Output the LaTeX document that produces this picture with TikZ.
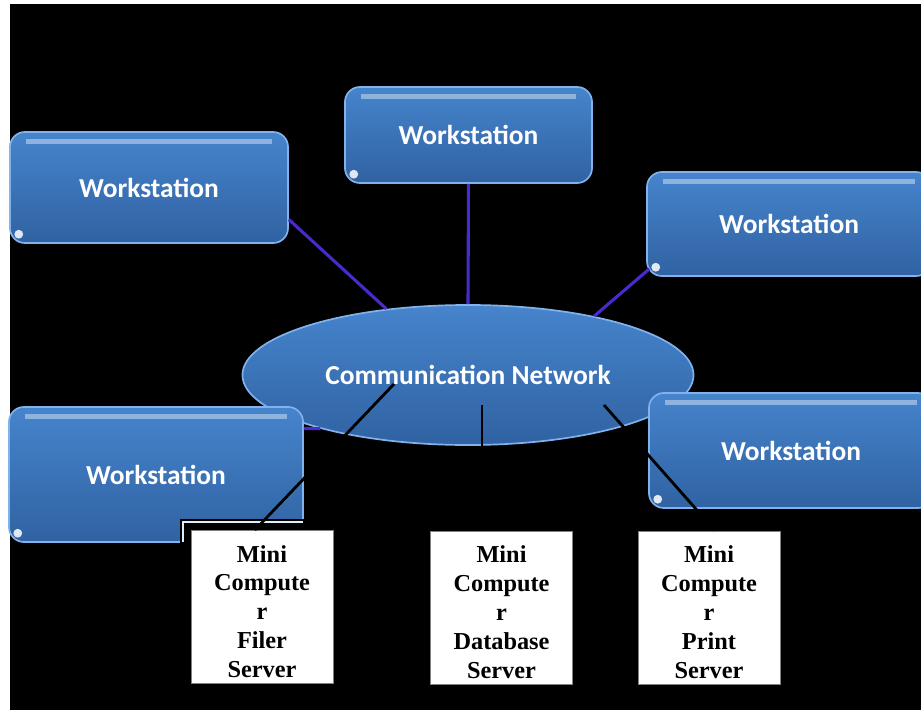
\documentclass[tikz,border=0pt]{standalone}
\usepackage{fontspec}
\newfontfamily\wsfont{Carlito}
\newfontfamily\srvfont{Liberation Serif}
\usetikzlibrary{shapes.geometric,calc}

\definecolor{wstop}{RGB}{70,132,204}
\definecolor{wsbottom}{RGB}{48,98,162}
\definecolor{wsrim}{RGB}{128,178,236}
\definecolor{linkblue}{RGB}{74,42,204}

\tikzset{
  gloss/.style={top color=wstop, bottom color=wsbottom, draw=wsrim, line width=1.2pt,
    text=white, font=\wsfont\fontsize{19.5}{23}\selectfont\bfseries},
  wsbox/.style={gloss, rounded corners=0.375cm, inner sep=0pt,
    path picture={
      \draw[white, opacity=0.4, line width=4pt]
        ([xshift=0.4cm,yshift=-0.24cm]path picture bounding box.north west) --
        ([xshift=-0.4cm,yshift=-0.24cm]path picture bounding box.north east);
      \fill[white, opacity=0.85]
        ([xshift=0.22cm,yshift=0.22cm]path picture bounding box.south west) circle (0.11cm);}},
  netshape/.style={gloss, ellipse, inner sep=0pt},
  srvbox/.style={fill=white, draw=gray, line width=0.6pt, align=center, inner sep=0pt,
    minimum width=3.55cm, minimum height=3.825cm, text height=101pt,
    font=\srvfont\fontsize{17.3}{20.6}\selectfont\bfseries},
  link/.style={linkblue, line width=2.2pt},
  wire/.style={black, line width=2pt}
}

\begin{document}
\begin{tikzpicture}[x=0.025cm, y=-0.025cm]
    \useasboundingbox (0,0) rectangle (921,710);
    \clip (0,0) rectangle (921,710);
    \fill[white] (0,0) rectangle (921,710);
    \fill[black] (10,4) rectangle (921,710);

    % workstations round the network
    \node[wsbox, minimum width=6.95cm, minimum height=2.775cm] (ws1) at (149,187.5) {Workstation};
    \node[wsbox, minimum width=6.175cm, minimum height=2.4cm] (ws2) at (468.5,135) {Workstation};
    \node[wsbox, minimum width=7.1cm, minimum height=2.6cm] (ws3) at (789,224) {Workstation};
    \node[netshape, minimum width=11.275cm, minimum height=3.5cm] (net) at (468,375) {Communication Network};
    \node[wsbox, minimum width=7.35cm, minimum height=3.375cm] (ws4) at (156,474.5) {Workstation};
    \node[wsbox, minimum width=7.1cm, minimum height=2.875cm] (ws5) at (791,450.5) {Workstation};

    \draw[link] ([yshift=-0.8cm]ws1.east) -- (net.141);
    \draw[link] (ws2.south) -- (net.north);
    \draw[link] ([xshift=0.08cm,yshift=0.2cm]ws3.south west) -- (net.25);
    \draw[link] ([yshift=1.15cm]ws4.east) -- (net.200);

    % black frame behind the filer box
    \fill[black] (180,519) rectangle (304,545);
    \draw[white!75!wsrim, line width=0.8pt] (183,542) -- (183,522) -- (303,522);

    % servers
    \node[srvbox] (filer) at (262,607) {Mini\\Compute\\r\\Filer\\Server};
    \node[srvbox] (db) at (501.5,607.5) {Mini\\Compute\\r\\Database\\Server};
    \node[srvbox] (print) at (709,607.5) {Mini\\Compute\\r\\Print\\Server};

    \coordinate (tapA) at (394,384);
    \coordinate (tapB) at (482,405);
    \coordinate (tapC) at (604,405);
    \draw[wire] (tapA) -- ([xshift=-0.18cm]filer.north);
    \draw[wire] (tapB) -- (tapB |- db.north);
    \draw[wire] (tapC) -- ([xshift=0.15cm]print.north);
\end{tikzpicture}
\end{document}
